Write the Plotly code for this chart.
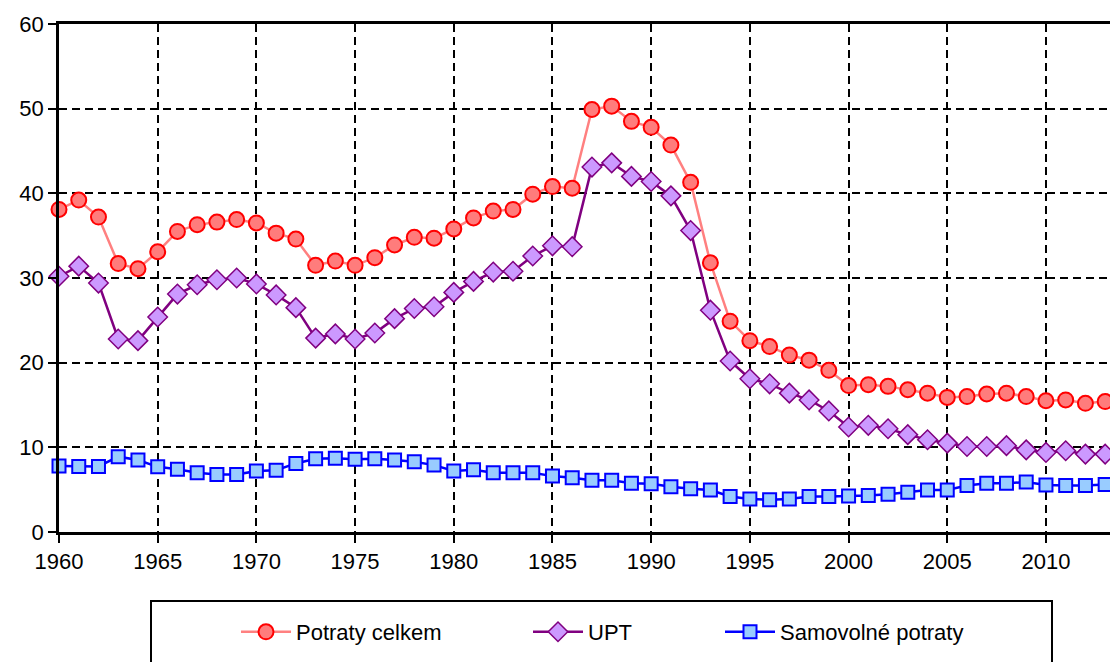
import plotly.graph_objects as go

years = list(range(1960, 2014))

potraty_celkem = [38.1, 39.2, 37.2, 31.7, 31.1, 33.1, 35.5, 36.3, 36.6, 36.9,
                  36.5, 35.3, 34.6, 31.5, 32.0, 31.5, 32.4, 33.9, 34.8, 34.7,
                  35.8, 37.1, 37.9, 38.1, 39.9, 40.8, 40.6, 49.9, 50.3, 48.5,
                  47.8, 45.7, 41.3, 31.8, 24.9, 22.6, 21.9, 20.9, 20.3, 19.1,
                  17.3, 17.4, 17.2, 16.8, 16.4, 15.9, 16.0, 16.3, 16.4, 16.0,
                  15.5, 15.6, 15.2, 15.4]

upt = [30.2, 31.4, 29.4, 22.8, 22.6, 25.4, 28.1, 29.2, 29.8, 30.0,
       29.3, 28.0, 26.5, 22.9, 23.4, 22.8, 23.5, 25.2, 26.4, 26.6,
       28.3, 29.6, 30.7, 30.8, 32.6, 33.8, 33.7, 43.1, 43.6, 42.0,
       41.4, 39.7, 35.6, 26.2, 20.2, 18.1, 17.5, 16.4, 15.6, 14.3,
       12.4, 12.6, 12.2, 11.5, 10.9, 10.5, 10.1, 10.1, 10.2, 9.7,
       9.4, 9.6, 9.2, 9.2]

samovolne = [7.8, 7.75, 7.75, 8.9, 8.5, 7.7, 7.4, 7.0, 6.8, 6.8,
             7.2, 7.3, 8.1, 8.65, 8.7, 8.6, 8.65, 8.5, 8.3, 7.9,
             7.2, 7.35, 7.0, 7.0, 7.0, 6.6, 6.4, 6.1, 6.1, 5.75,
             5.7, 5.35, 5.1, 4.95, 4.2, 3.9, 3.8, 3.9, 4.2, 4.2,
             4.25, 4.3, 4.45, 4.7, 4.95, 4.95, 5.5, 5.75, 5.75, 5.9,
             5.55, 5.5, 5.5, 5.6]

names = ["Potraty celkem", "UPT", "Samovolné potraty"]
y_ticks = [0, 10, 20, 30, 40, 50, 60]
x_ticks = [1960, 1965, 1970, 1975, 1980, 1985, 1990, 1995, 2000, 2005, 2010]

FONT = "Liberation Sans, Arial, sans-serif"

fig = go.Figure()
fig.add_trace(go.Scatter(
    x=years, y=potraty_celkem, name=names[0], mode="lines+markers",
    line=dict(color="#FF8080", width=2.5),
    marker=dict(symbol="circle", size=15, color="#FF7C7C",
                line=dict(color="#FF0000", width=2)),
    cliponaxis=False, legend="legend"))
fig.add_trace(go.Scatter(
    x=years, y=upt, name=names[1], mode="lines+markers",
    line=dict(color="#800080", width=2.5),
    marker=dict(symbol="diamond", size=15, color="#CC99FF",
                line=dict(color="#800080", width=1.5)),
    cliponaxis=False, legend="legend2"))
fig.add_trace(go.Scatter(
    x=years, y=samovolne, name=names[2], mode="lines+markers",
    line=dict(color="#0000FF", width=2.5),
    marker=dict(symbol="square", size=13, color="#99CCFF",
                line=dict(color="#0000FF", width=2)),
    cliponaxis=False, legend="legend3"))

# page body has an 8px margin; all positions below are in figure pixels
OFF = 8
W, H = 1118, 662
L, R, T, B = 59 - OFF, OFF, 24 - OFF, H - (532 - OFF)
pw, ph = W - L - R, H - T - B

def px2x(px):  # screen px -> paper x
    return (px - OFF - L) / pw

def py2y(py):  # screen px -> paper y
    return (H - B - (py - OFF)) / ph

def cx(px):
    return (px - OFF) / W

def cy(py):
    return 1 - (py - OFF) / H

legend_common = dict(orientation="h", yanchor="middle", xanchor="left",
                     xref="container", yref="container",
                     bgcolor="rgba(0,0,0,0)", borderwidth=0,
                     font=dict(family=FONT, size=22, color="black"),
                     itemwidth=50)

fig.update_layout(
    width=W, height=H,
    margin=dict(l=L, r=R, t=T, b=B, pad=0, autoexpand=False),
    paper_bgcolor="white", plot_bgcolor="white",
    font=dict(family=FONT, size=22, color="black"),
    showlegend=True,
    legend=dict(x=cx(236), y=cy(632), **legend_common),
    legend2=dict(x=cx(528), y=cy(632), **legend_common),
    legend3=dict(x=cx(720), y=cy(632), **legend_common),
    xaxis=dict(range=[1960, 2013.65], tickmode="array", tickvals=x_ticks,
               ticktext=[str(v) for v in x_ticks], automargin=False,
               showline=True, linecolor="black", linewidth=2.5, mirror=True,
               ticks="outside", ticklen=8, tickwidth=2, tickcolor="black",
               showgrid=True, gridcolor="black", gridwidth=1.5, griddash="8px,5px",
               zeroline=False, tickfont=dict(family=FONT, size=22, color="black")),
    yaxis=dict(range=[0, 60], tickmode="array", tickvals=y_ticks,
               ticktext=[str(v) for v in y_ticks], automargin=False,
               showline=True, linecolor="black", linewidth=2.5,
               ticks="outside", ticklen=8, tickwidth=2, tickcolor="black",
               showgrid=True, gridcolor="black", gridwidth=1.5, griddash="8px,5px",
               zeroline=False, tickfont=dict(family=FONT, size=22, color="black")),
    shapes=[dict(type="rect", xref="paper", yref="paper",
                 x0=px2x(151), x1=px2x(1052), y0=py2y(601), y1=py2y(672),
                 line=dict(color="black", width=2), fillcolor="rgba(0,0,0,0)",
                 layer="below")],
)

fig.write_html("out.html")
